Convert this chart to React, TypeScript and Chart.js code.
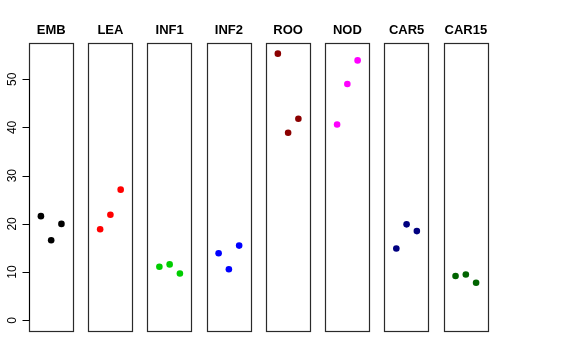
import React, { useEffect, useRef } from "react";
import { Chart, registerables } from "chart.js";

Chart.register(...registerables);

const panels = ["EMB", "LEA", "INF1", "INF2", "ROO", "NOD", "CAR5", "CAR15"];
const colors = ["#000000", "#FF0000", "#00CD00", "#0000FF", "#8B0000", "#FF00FF", "#000080", "#006400"];
const valuesEMB = [21.6, 16.6, 20.0];
const valuesLEA = [18.9, 21.9, 27.1];
const valuesINF1 = [11.1, 11.6, 9.7];
const valuesINF2 = [13.9, 10.6, 15.5];
const valuesROO = [55.3, 38.9, 41.8];
const valuesNOD = [40.6, 49.0, 53.9];
const valuesCAR5 = [14.9, 19.9, 18.5];
const valuesCAR15 = [9.2, 9.5, 7.8];
const seriesValues = [valuesEMB, valuesLEA, valuesINF1, valuesINF2, valuesROO, valuesNOD, valuesCAR5, valuesCAR15];
const yTicks = [0, 10, 20, 30, 40, 50];

const PANEL_STEP = 5.77; // x units between panel origins
const X_LO = -0.16;
const X_HI = 4.16;
const Y_MAX_DATA = 55.3;
const Y_LO = -0.04 * Y_MAX_DATA;
const Y_HI = Y_MAX_DATA * 1.04;

export default function App() {
  const ref = useRef<HTMLCanvasElement | null>(null);
  useEffect(() => {
    if (!ref.current) return;
    const datasets = panels.map((name, i) => ({
      label: name,
      data: seriesValues[i].map((v, j) => ({ x: i * PANEL_STEP + j + 1, y: v })),
      backgroundColor: colors[i],
      borderColor: colors[i],
      pointRadius: 3.3,
      pointBorderWidth: 0,
      pointHoverRadius: 3.3,
    }));

    const panelPlugin = {
      id: "panels",
      beforeDatasetsDraw(chart: any) {
        const { ctx, chartArea, scales } = chart;
        const xs = scales.x;
        const ys = scales.y;
        ctx.save();
        ctx.strokeStyle = "#2a2a2a";
        ctx.lineWidth = 1.2;
        panels.forEach((name, i) => {
          const l = xs.getPixelForValue(i * PANEL_STEP + X_LO);
          const r = xs.getPixelForValue(i * PANEL_STEP + X_HI);
          ctx.strokeRect(Math.round(l) + 0.5, Math.round(chartArea.top) + 0.5, Math.round(r - l), Math.round(chartArea.bottom - chartArea.top));
          ctx.fillStyle = "#000";
          ctx.font = "bold 13px 'Liberation Sans', Arial, sans-serif";
          ctx.textAlign = "center";
          ctx.textBaseline = "alphabetic";
          ctx.fillText(name, (l + r) / 2, chartArea.top - 9);
        });
        // y axis
        const ax = Math.round(xs.getPixelForValue(X_LO)) + 0.5;
        ctx.strokeStyle = "#000";
        ctx.lineWidth = 1;
        ctx.beginPath();
        ctx.moveTo(ax, ys.getPixelForValue(yTicks[0]));
        ctx.lineTo(ax, ys.getPixelForValue(yTicks[yTicks.length - 1]));
        yTicks.forEach((t) => {
          const py = Math.round(ys.getPixelForValue(t)) + 0.5;
          ctx.moveTo(ax - 7, py);
          ctx.lineTo(ax, py);
        });
        ctx.stroke();
        ctx.font = "12px 'Liberation Sans', Arial, sans-serif";
        ctx.fillStyle = "#000";
        yTicks.forEach((t) => {
          const py = ys.getPixelForValue(t);
          ctx.save();
          ctx.translate(16, py);
          ctx.rotate(-Math.PI / 2);
          ctx.textAlign = "center";
          ctx.textBaseline = "alphabetic";
          ctx.fillText(String(t), 0, 0);
          ctx.restore();
        });
        ctx.restore();
      },
    };

    const chart = new Chart(ref.current, {
      type: "scatter",
      data: { datasets },
      options: {
        animation: false,
        responsive: false,
        devicePixelRatio: 1,
        layout: { padding: { left: 29, right: 88, top: 43, bottom: 29 } },
        plugins: { legend: { display: false }, tooltip: { enabled: false }, title: { display: false } },
        scales: {
          x: { type: "linear", display: false, min: X_LO, max: (panels.length - 1) * PANEL_STEP + X_HI },
          y: { type: "linear", display: false, min: Y_LO, max: Y_HI },
        },
      },
      plugins: [panelPlugin],
    });
    return () => chart.destroy();
  }, []);

  return (
    <div style={{ position: "absolute", left: 0, top: 0, width: 576, height: 360, background: "#fff" }}>
      <canvas ref={ref} width={576} height={360} style={{ width: 576, height: 360 }} />
    </div>
  );
}
